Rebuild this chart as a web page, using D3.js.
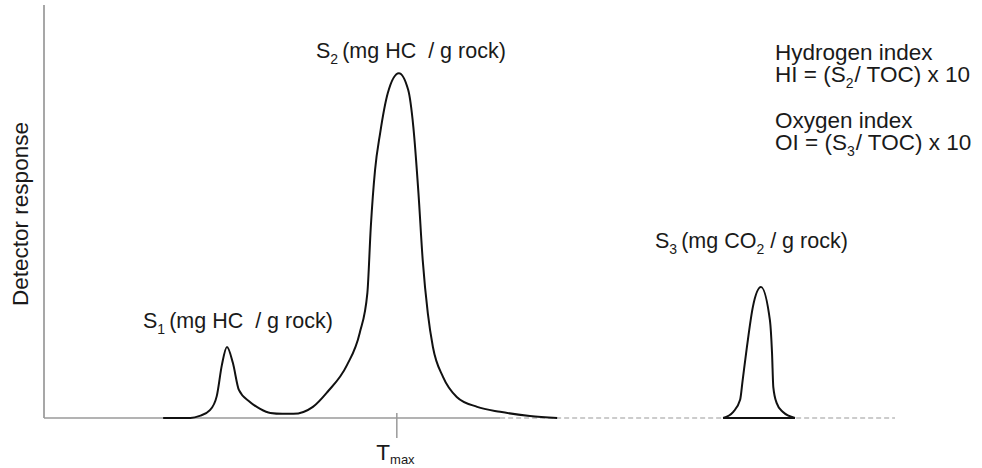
<!DOCTYPE html>
<html>
<head>
<meta charset="utf-8">
<script src="https://cdn.jsdelivr.net/npm/d3@7"></script>
<style>
    body { margin: 0; background: #fff; }
    text { font-family: "Liberation Sans", Arial, sans-serif; fill: #1a1a1a; white-space: pre; }
</style>
</head>
<body>
<div id="chart"></div>
<script>
// Rock-Eval pyrolysis trace (arbitrary units: time 0-100, response 0-100)

// S1 + S2 trace (one continuous signal)
const s12Time = [14.0, 17.2, 18.3, 19.5, 20.3, 20.9, 21.5, 22.2, 22.9, 24.2, 25.4, 26.6, 28.0, 29.3,
    31.6, 33.3, 35.6, 37.1, 38.0, 38.4, 38.9, 39.5, 40.4, 41.7, 42.8, 43.4, 44.0, 44.5,
    45.1, 45.7, 46.9, 48.5, 50.9, 53.6, 57.1, 60.3];
const s12Resp = [0, 0, 0.5, 1.9, 5.3, 12.8, 17.2, 13.3, 6.8, 3.9, 2.2, 1.2, 1.0, 1.0,
    2.7, 6.3, 12.8, 20.6, 30.3, 46.2, 60.0, 69.0, 78.7, 83.5, 79.4, 70.5, 54.5, 38.3,
    25.4, 17.2, 9.9, 5.1, 2.7, 1.5, 0.5, 0];

// S3 peak
const s3Time = [79.8, 81.0, 81.8, 82.1, 82.6, 83.3, 84.25, 85.3, 85.55, 85.7, 86.1, 86.8, 88.25];
const s3Resp = [0, 1.5, 4.4, 9.2, 17.2, 26.9, 31.7, 23.7, 15.7, 7.5, 3.6, 1.5, 0];

// Baseline segments
const baseSolidEnd = 53.6;
const baseEnd = 100;
const tmax = 41.4;

function createPyrogram(containerId) {
    const W = 982, H = 468;
    const margin = { top: 5, right: 87, bottom: 50, left: 44 };
    const width = W - margin.left - margin.right;
    const height = H - margin.top - margin.bottom;
    const fs = '22.5px', labFs = '21.5px', subFs = '14px';

    const svg = d3.select(`#${containerId}`)
        .append('svg')
        .attr('width', W)
        .attr('height', H)
        .append('g')
        .attr('transform', `translate(${margin.left},${margin.top})`);

    const x = d3.scaleLinear().domain([0, 100]).range([0, width]);
    const y = d3.scaleLinear().domain([0, 100]).range([height, 0]);

    // Y axis line
    svg.append('line')
        .attr('x1', 0).attr('x2', 0)
        .attr('y1', y(100)).attr('y2', y(0))
        .style('stroke', '#8a8a8a')
        .style('stroke-width', 1.5);

    // Baseline: solid then dashed
    svg.append('line')
        .attr('x1', x(0)).attr('x2', x(baseSolidEnd))
        .attr('y1', y(0)).attr('y2', y(0))
        .style('stroke', '#9a9a9a')
        .style('stroke-width', 1.5);

    svg.append('line')
        .attr('x1', x(baseSolidEnd)).attr('x2', x(baseEnd))
        .attr('y1', y(0)).attr('y2', y(0))
        .style('stroke', '#9a9a9a')
        .style('stroke-width', 1.2)
        .style('stroke-dasharray', '5,3');

    // Tmax tick
    const tickAxis = svg.append('g')
        .attr('transform', `translate(0,${y(0) - 5})`)
        .call(d3.axisBottom(x).tickValues([tmax]).tickFormat('').tickSizeOuter(0).tickSizeInner(25));
    tickAxis.select('.domain').remove();
    tickAxis.selectAll('.tick line').style('stroke', '#9a9a9a').style('stroke-width', 1.5);

    const tlab = svg.append('text')
        .attr('x', x(tmax) - 20)
        .attr('y', y(0) + 42)
        .style('font-size', fs);
    tlab.append('tspan').text('T');
    tlab.append('tspan').attr('dy', 4).style('font-size', '13px').text('max');

    // Traces
    const line = d3.line()
        .x(d => x(d[0]))
        .y(d => y(d[1]))
        .curve(d3.curveMonotoneX);

    svg.append('path')
        .datum(d3.zip(s12Time, s12Resp))
        .attr('d', line)
        .style('fill', 'none')
        .style('stroke', '#111')
        .style('stroke-width', 2);

    svg.append('path')
        .datum(d3.zip(s3Time, s3Resp))
        .attr('d', line)
        .style('fill', 'none')
        .style('stroke', '#111')
        .style('stroke-width', 2);

    svg.append('line')
        .attr('x1', x(s3Time[0])).attr('x2', x(s3Time[s3Time.length - 1]))
        .attr('y1', y(0)).attr('y2', y(0))
        .style('stroke', '#111')
        .style('stroke-width', 2);

    // Y axis title
    svg.append('text')
        .attr('transform', 'rotate(-90)')
        .attr('x', -(214 - margin.top))
        .attr('y', -16)
        .style('text-anchor', 'middle')
        .style('font-size', fs)
        .text('Detector response');

    // Peak labels: S<sub> + rest
    function peakLabel(px, py, sub, parts) {
        const t = svg.append('text')
            .attr('x', px - margin.left)
            .attr('y', py - margin.top)
            .style('font-size', labFs);
        t.append('tspan').text('S');
        t.append('tspan').attr('dy', 6).style('font-size', subFs).text(sub);
        t.append('tspan').attr('dy', -6).attr('dx', 4).text(parts[0]);
        if (parts.length > 1) {
            t.append('tspan').attr('dy', 6).style('font-size', subFs).text(parts[1]);
            t.append('tspan').attr('dy', -6).text(parts[2]);
        }
    }

    peakLabel(143, 328, '1', ['(mg HC  / g rock)']);
    peakLabel(316, 58, '2', ['(mg HC  / g rock)']);
    peakLabel(655, 248, '3', ['(mg CO', '2', ' / g rock)']);

    // Index formulas
    function formula(px, py, lines, sub) {
        svg.append('text')
            .attr('x', px - margin.left)
            .attr('y', py - margin.top)
            .style('font-size', fs)
            .text(lines[0]);
        const t = svg.append('text')
            .attr('x', px - margin.left)
            .attr('y', py + 22 - margin.top)
            .style('font-size', fs);
        t.append('tspan').text(lines[1]);
        t.append('tspan').attr('dy', 6).style('font-size', subFs).text(sub);
        t.append('tspan').attr('dy', -6).attr('dx', 1).text(lines[2]);
    }

    formula(775, 60, ['Hydrogen index', 'HI = (S', '/ TOC) x 10'], '2');
    formula(775, 128, ['Oxygen index', 'OI = (S', '/ TOC) x 10'], '3');
}

createPyrogram('chart');
</script>
</body>
</html>
